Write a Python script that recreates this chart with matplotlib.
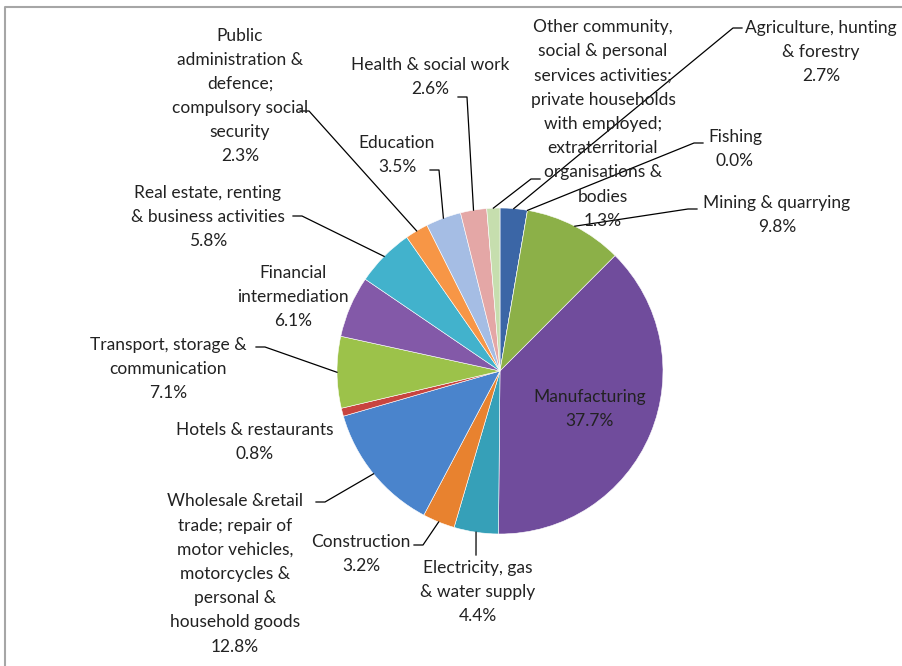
import numpy as np
import matplotlib
matplotlib.use('Agg')
import matplotlib.pyplot as plt

# sector shares (%), clockwise from 12 o'clock
sectors = ['Agriculture, hunting\n& forestry', 'Fishing', 'Mining & quarrying', 'Manufacturing',
           'Electricity, gas\n& water supply', 'Construction',
           'Wholesale &retail\ntrade; repair of\nmotor vehicles,\nmotorcycles &\npersonal &\nhousehold goods',
           'Hotels & restaurants', 'Transport, storage &\ncommunication', 'Financial\nintermediation',
           'Real estate, renting\n& business activities',
           'Public\nadministration &\ndefence;\ncompulsory social\nsecurity',
           'Education', 'Health & social work',
           'Other community,\nsocial & personal\nservices activities;\nprivate households\nwith employed;\nextraterritorial\norganisations &\nbodies']
shares = [2.7, 0.0, 9.8, 37.7, 4.4, 3.2, 12.8, 0.8, 7.1, 6.1, 5.8, 2.3, 3.5, 2.6, 1.3]
colors = ['#3B66A6', '#C0504D', '#8CB048', '#704C9C', '#36A0B8', '#E8822F', '#4A84CC', '#C8443F',
          '#9CC24A', '#8359A8', '#42B2CC', '#F79646', '#A5BDE4', '#E4A7A6', '#C6DEAE']

W, H = 903, 666
cx, cy, r = 500, 371, 163

# label block centre (pixels) and leader start (pixels) per slice
label_pos = [(821, 52), (735, 149), (777, 215), (590, 409), (478, 592), (361, 554), (235, 574),
             (255, 442), (168, 369), (293, 297), (208, 217), (240, 96), (397, 155), (430, 77), (603, 124)]
leader_start = [(742, 28), (703, 143), (697, 209), None, (476, 555), (414, 545), (316, 502),
                None, (256, 347), None, (293, 216), (300, 111), (430, 170), (458, 97), (540, 179)]


def Y(py):
    return H - py


plt.rcParams['font.family'] = ['Lato', 'DejaVu Sans']
fig = plt.figure(figsize=(W / 100, H / 100), dpi=100)
ax = fig.add_axes([0, 0, 1, 1])

ax.pie(shares, colors=colors, startangle=90, counterclock=False, radius=r, center=(cx, Y(cy)),
       wedgeprops=dict(edgecolor='white', linewidth=0.4))

ax.set_xlim(0, W)
ax.set_ylim(0, H)
ax.set_aspect('equal')
ax.axis('off')

# chart frame
ax.plot([5, 5, W], [0, Y(7), Y(7)], color='#A6A6A6', lw=1.5)

total = sum(shares)
cum = np.cumsum([0] + shares)
for i, name in enumerate(sectors):
    txt = name + '\n%.1f%%' % shares[i]
    lx, ly = label_pos[i]
    ax.text(lx, Y(ly), txt, ha='center', va='center', fontsize=12.5, linespacing=1.63, color='#222222')
    if leader_start[i] is not None:
        mid = (cum[i] + shares[i] / 2) / total
        ang = np.deg2rad(90 - mid * 360)
        ex, ey = cx + r * np.cos(ang), Y(cy) + r * np.sin(ang)
        sx, sy = leader_start[i]
        if abs(sx - ex) < 10:
            step = 0
        else:
            step = 9 if sx > ex else -9
        ax.plot([sx, sx - step, ex], [Y(sy), Y(sy), ey], color='black', lw=0.9)

plt.savefig('out.png', dpi=100)
